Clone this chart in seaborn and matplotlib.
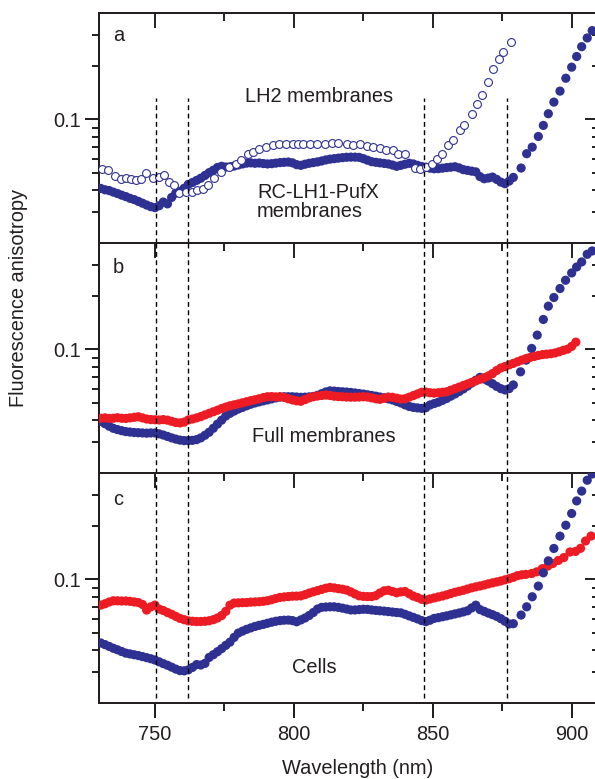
import numpy as np
import pandas as pd
import matplotlib
matplotlib.use("Agg")
import matplotlib.pyplot as plt
import seaborn as sns
from matplotlib.ticker import FixedLocator, NullFormatter, FixedFormatter

# ---------------- data (wavelength in nm, fluorescence anisotropy) ----------------
# dense scans sampled every 1.5 nm starting at 730.5 nm
GRID_START, GRID_STEP = 730.5, 1.5

# panel a: RC-LH1-PufX membranes (filled)
a_rc_dense = [0.0407, 0.0400, 0.0396, 0.0388, 0.0381, 0.0373, 0.0366, 0.0358, 0.0352, 0.0344,
              0.0336, 0.0328, 0.0321, 0.0317, 0.0325, 0.0341, 0.0333, 0.0362, 0.0383, 0.0392,
              0.0408, 0.0429, 0.0440, 0.0452, 0.0465, 0.0482, 0.0500, 0.0516, 0.0535, 0.0543,
              0.0538, 0.0540, 0.0545, 0.0553, 0.0560, 0.0566, 0.0568, 0.0565, 0.0567, 0.0563,
              0.0560, 0.0562, 0.0566, 0.0570, 0.0572, 0.0574, 0.0568, 0.0555, 0.0550, 0.0558,
              0.0565, 0.0570, 0.0575, 0.0582, 0.0590, 0.0596, 0.0600, 0.0604, 0.0608, 0.0611,
              0.0612, 0.0612, 0.0610, 0.0600, 0.0588, 0.0577, 0.0572, 0.0568, 0.0564, 0.0560,
              0.0552, 0.0543, 0.0550, 0.0558, 0.0565, 0.0560, 0.0550, 0.0542, 0.0537, 0.0530,
              0.0526, 0.0527, 0.0530, 0.0534, 0.0537, 0.0540, 0.0532, 0.0520, 0.0515, 0.0510,
              0.0505, 0.0475, 0.0462, 0.0466, 0.0472, 0.0458, 0.0442, 0.0433, 0.0448, 0.0470]
a_rc_tail_wl = [881.8, 883.8, 885.8, 888.0, 889.8, 891.6, 893.6, 895.8, 897.9, 900.0,
                901.8, 903.6, 905.6, 907.4]
a_rc_tail = [0.0531, 0.0640, 0.0697, 0.0801, 0.0925, 0.1077, 0.1253, 0.1446, 0.1710, 0.1975,
             0.2270, 0.2580, 0.2890, 0.3180]

# panel a: LH2 membranes (open)
a_lh2_wl = [730.8, 733.2, 735.6, 737.6, 739.5, 741.3, 743.3, 745.1, 746.9, 749.3,
            751.4, 753.4, 755.2, 756.7, 758.8, 761.2, 763.3, 765.1, 767.2, 769.0,
            771.4, 773.8, 776.8, 779.2, 781.0, 783.4, 785.2, 787.6, 790.0, 792.4,
            794.8, 797.2, 799.6, 801.6, 803.4, 805.8, 808.2, 811.2, 813.6, 816.0,
            819.0, 821.4, 823.8, 826.2, 828.4, 831.0, 833.2, 835.8, 837.6, 840.0,
            843.6, 845.4, 847.5, 849.6, 851.6, 853.5, 855.6, 857.4, 859.8, 861.3,
            864.0, 865.8, 867.8, 870.0, 871.8, 873.8, 875.2, 878.0]
a_lh2 = [0.0526, 0.0520, 0.0478, 0.0462, 0.0465, 0.0462, 0.0457, 0.0462, 0.0500, 0.0465,
         0.0470, 0.0483, 0.0443, 0.0424, 0.0383, 0.0388, 0.0388, 0.0397, 0.0405, 0.0424,
         0.0468, 0.0504, 0.0540, 0.0562, 0.0592, 0.0634, 0.0654, 0.0677, 0.0697, 0.0713,
         0.0729, 0.0729, 0.0729, 0.0727, 0.0722, 0.0722, 0.0722, 0.0729, 0.0735, 0.0735,
         0.0729, 0.0720, 0.0722, 0.0707, 0.0697, 0.0692, 0.0674, 0.0668, 0.0634, 0.0640,
         0.0531, 0.0526, 0.0540, 0.0562, 0.0600, 0.0640, 0.0713, 0.0767, 0.0867, 0.0933,
         0.1077, 0.1227, 0.1366, 0.1623, 0.1934, 0.2202, 0.2398, 0.2732]

# panel b: full membranes, blue and red series
b_blue_dense = [0.0392, 0.0380, 0.0368, 0.0358, 0.0352, 0.0347, 0.0343, 0.0341, 0.0339, 0.0338,
                0.0337, 0.0336, 0.0337, 0.0337, 0.0333, 0.0328, 0.0322, 0.0316, 0.0311, 0.0307,
                0.0305, 0.0305, 0.0306, 0.0309, 0.0316, 0.0327, 0.0340, 0.0358, 0.0378, 0.0398,
                0.0420, 0.0435, 0.0448, 0.0460, 0.0470, 0.0480, 0.0490, 0.0498, 0.0505, 0.0512,
                0.0518, 0.0525, 0.0532, 0.0538, 0.0540, 0.0540, 0.0540, 0.0538, 0.0536, 0.0537,
                0.0539, 0.0542, 0.0550, 0.0562, 0.0575, 0.0583, 0.0581, 0.0578, 0.0576, 0.0574,
                0.0571, 0.0567, 0.0563, 0.0559, 0.0554, 0.0549, 0.0544, 0.0538, 0.0532, 0.0525,
                0.0518, 0.0508, 0.0498, 0.0486, 0.0476, 0.0470, 0.0467, 0.0464, 0.0468, 0.0485,
                0.0494, 0.0503, 0.0515, 0.0528, 0.0544, 0.0560, 0.0578, 0.0598, 0.0620, 0.0645,
                0.0670, 0.0695, 0.0680, 0.0662, 0.0640, 0.0618, 0.0600, 0.0590, 0.0600, 0.0630]
b_blue_tail_wl = [881.6, 883.6, 885.6, 887.6, 889.8, 891.6, 893.6, 895.8, 897.8, 900.0,
                  901.8, 903.6, 905.6, 907.4]
b_blue_tail = [0.0747, 0.0870, 0.1013, 0.1205, 0.1477, 0.1757, 0.1967, 0.2211, 0.2462, 0.2708,
               0.2927, 0.3126, 0.3454, 0.3606]
b_red_dense = [0.0408, 0.0410, 0.0407, 0.0408, 0.0411, 0.0408, 0.0407, 0.0410, 0.0413, 0.0416,
               0.0410, 0.0404, 0.0401, 0.0400, 0.0399, 0.0401, 0.0398, 0.0392, 0.0386, 0.0384,
               0.0388, 0.0399, 0.0404, 0.0410, 0.0417, 0.0426, 0.0435, 0.0444, 0.0453, 0.0463,
               0.0472, 0.0480, 0.0486, 0.0492, 0.0499, 0.0506, 0.0513, 0.0519, 0.0526, 0.0534,
               0.0540, 0.0541, 0.0539, 0.0540, 0.0535, 0.0526, 0.0518, 0.0512, 0.0509, 0.0520,
               0.0532, 0.0540, 0.0545, 0.0549, 0.0552, 0.0549, 0.0544, 0.0541, 0.0540, 0.0538,
               0.0537, 0.0537, 0.0538, 0.0540, 0.0538, 0.0532, 0.0526, 0.0522, 0.0530, 0.0538,
               0.0536, 0.0530, 0.0524, 0.0526, 0.0537, 0.0548, 0.0560, 0.0572, 0.0574, 0.0569,
               0.0566, 0.0569, 0.0572, 0.0576, 0.0588, 0.0600, 0.0612, 0.0625, 0.0638, 0.0651,
               0.0664, 0.0678, 0.0692, 0.0708, 0.0730, 0.0760, 0.0785, 0.0800, 0.0818, 0.0834,
               0.0852, 0.0870, 0.0887, 0.0900, 0.0912, 0.0925, 0.0935, 0.0940, 0.0946, 0.0955,
               0.0970, 0.0988, 0.1003, 0.1040, 0.1100]

# panel c: cells, blue and red series
c_blue_dense = [0.0437, 0.0428, 0.0418, 0.0408, 0.0400, 0.0391, 0.0383, 0.0379, 0.0375, 0.0371,
                0.0366, 0.0361, 0.0356, 0.0350, 0.0342, 0.0334, 0.0327, 0.0319, 0.0311, 0.0305,
                0.0304, 0.0308, 0.0318, 0.0330, 0.0328, 0.0335, 0.0362, 0.0375, 0.0390, 0.0406,
                0.0424, 0.0442, 0.0470, 0.0497, 0.0510, 0.0522, 0.0532, 0.0542, 0.0550, 0.0557,
                0.0565, 0.0573, 0.0580, 0.0585, 0.0588, 0.0589, 0.0585, 0.0576, 0.0590, 0.0605,
                0.0625, 0.0650, 0.0680, 0.0695, 0.0698, 0.0700, 0.0700, 0.0695, 0.0688, 0.0680,
                0.0672, 0.0672, 0.0675, 0.0678, 0.0677, 0.0672, 0.0668, 0.0665, 0.0662, 0.0658,
                0.0654, 0.0650, 0.0647, 0.0635, 0.0622, 0.0610, 0.0598, 0.0585, 0.0577, 0.0588,
                0.0602, 0.0608, 0.0615, 0.0622, 0.0630, 0.0638, 0.0646, 0.0655, 0.0665, 0.0690,
                0.0715, 0.0675, 0.0660, 0.0645, 0.0632, 0.0618, 0.0600, 0.0580, 0.0560, 0.0562]
c_blue_tail_wl = [881.8, 883.8, 885.8, 888.0, 889.8, 891.6, 893.6, 895.8, 897.9, 900.0,
                  901.8, 903.6, 905.6, 907.4]
c_blue_tail = [0.0629, 0.0700, 0.0798, 0.0917, 0.1090, 0.1274, 0.1497, 0.1757, 0.2026, 0.2360,
               0.2780, 0.3160, 0.3640, 0.3950]
c_red_dense = [0.0716, 0.0728, 0.0745, 0.0757, 0.0757, 0.0755, 0.0755, 0.0752, 0.0746, 0.0740,
               0.0722, 0.0671, 0.0700, 0.0716, 0.0680, 0.0667, 0.0650, 0.0635, 0.0618, 0.0602,
               0.0592, 0.0583, 0.0580, 0.0578, 0.0578, 0.0580, 0.0584, 0.0592, 0.0605, 0.0625,
               0.0660, 0.0715, 0.0735, 0.0737, 0.0739, 0.0740, 0.0744, 0.0746, 0.0748, 0.0752,
               0.0758, 0.0768, 0.0780, 0.0791, 0.0796, 0.0800, 0.0804, 0.0805, 0.0807, 0.0820,
               0.0837, 0.0851, 0.0864, 0.0878, 0.0892, 0.0901, 0.0895, 0.0887, 0.0880, 0.0870,
               0.0850, 0.0828, 0.0808, 0.0802, 0.0800, 0.0800, 0.0810, 0.0838, 0.0862, 0.0868,
               0.0855, 0.0840, 0.0850, 0.0855, 0.0830, 0.0805, 0.0790, 0.0772, 0.0764, 0.0775,
               0.0786, 0.0796, 0.0806, 0.0818, 0.0832, 0.0846, 0.0857, 0.0868, 0.0882, 0.0896,
               0.0908, 0.0918, 0.0930, 0.0944, 0.0956, 0.0968, 0.0980, 0.0995, 0.1010, 0.1028,
               0.1050, 0.1062, 0.1068]
c_red_tail_wl = [885.6, 887.4, 889.4, 891.4, 893.2, 895.2, 897.2, 899.4, 901.4, 903.2,
                 905.0, 907.0]
c_red_tail = [0.1080, 0.1104, 0.1150, 0.1190, 0.1230, 0.1280, 0.1330, 0.1430, 0.1440, 0.1500,
              0.1650, 0.1760]

dashed_wl = [750.3, 761.9, 847.0, 876.8]
x_major = [750, 800, 850, 900]
x_minor = [775, 825, 875]
y_major = [0.1]
y_major_labels = ["0.1"]
y_minor = [0.03, 0.04, 0.05, 0.06, 0.07, 0.08, 0.09, 0.2, 0.3]
panel_letters = ["a", "b", "c"]

BLUE = "#2E3192"
RED = "#ED1C24"


def grid(vals):
    return [GRID_START + GRID_STEP * i for i in range(len(vals))]


def frame(wl, vals, name):
    return pd.DataFrame({"wl": wl, "r": vals, "series": name})


df_a = pd.concat([frame(grid(a_rc_dense), a_rc_dense, "blue"),
                  frame(a_rc_tail_wl, a_rc_tail, "blue")])
df_a_open = frame(a_lh2_wl, a_lh2, "open")
df_b = pd.concat([frame(grid(b_blue_dense), b_blue_dense, "blue"),
                  frame(b_blue_tail_wl, b_blue_tail, "blue"),
                  frame(grid(b_red_dense), b_red_dense, "red")])
df_c = pd.concat([frame(grid(c_red_dense), c_red_dense, "red"),
                  frame(c_red_tail_wl, c_red_tail, "red"),
                  frame(grid(c_blue_dense), c_blue_dense, "blue"),
                  frame(c_blue_tail_wl, c_blue_tail, "blue")])

# ---------------- figure ----------------
sns.set_theme(style="ticks")
plt.rcParams["font.family"] = ["Liberation Sans", "DejaVu Sans"]
plt.rcParams["axes.linewidth"] = 1.44

W, H = 595, 779
fig = plt.figure(figsize=(W / 100, H / 100), dpi=100)
fig.patch.set_facecolor("white")


def fx(px):
    return px / W


def fy(py):
    return 1 - py / H


left_px, right_px = 99.4, 596.5
x_lo = 730.0
x_hi = x_lo + (right_px - left_px) / 2.778
panels_px = [(13, 243), (243, 473), (473, 703)]
axes = []
for top, bot in panels_px:
    ax = fig.add_axes([fx(left_px), fy(bot), (right_px - left_px) / W, (bot - top) / H])
    axes.append(ax)

palette = {"blue": BLUE, "red": RED}
FS = 14.4
LW = 1.44
S_FILLED = 44

for i, ax in enumerate(axes):
    ax.set_facecolor("white")
    ax.set_yscale("log")
    ax.set_ylim(0.02, 0.4)
    ax.set_xlim(x_lo, x_hi)
    ax.yaxis.set_major_locator(FixedLocator(y_major))
    ax.yaxis.set_major_formatter(FixedFormatter(y_major_labels))
    ax.yaxis.set_minor_locator(FixedLocator(y_minor))
    ax.yaxis.set_minor_formatter(NullFormatter())
    ax.tick_params(axis="y", which="major", direction="out", length=10, width=LW,
                   labelsize=FS, pad=3, right=False, colors="#231F20")
    ax.tick_params(axis="y", which="minor", direction="out", length=5, width=LW, right=False)
    ax.xaxis.set_major_locator(FixedLocator(x_major))
    ax.xaxis.set_minor_locator(FixedLocator(x_minor))
    ax.xaxis.set_minor_formatter(NullFormatter())
    if i == 2:
        ax.tick_params(axis="x", which="major", direction="out", length=10.8, width=LW,
                       labelsize=FS, pad=5, top=False, colors="#231F20")
        ax.tick_params(axis="x", which="minor", direction="out", length=5.8, width=LW, top=False)
    else:
        ax.tick_params(axis="x", which="both", length=0, labelbottom=False, top=False)
    for sp in ax.spines.values():
        sp.set_linewidth(LW)
        sp.set_color("#231F20")
    ax.spines["right"].set_visible(False)

    # right-side inward ticks
    sy = ax.secondary_yaxis("right")
    sy.yaxis.set_major_locator(FixedLocator(y_major))
    sy.yaxis.set_minor_locator(FixedLocator(y_minor))
    sy.yaxis.set_major_formatter(NullFormatter())
    sy.yaxis.set_minor_formatter(NullFormatter())
    sy.tick_params(axis="y", which="major", direction="in", length=8.6, width=LW)
    sy.tick_params(axis="y", which="minor", direction="in", length=3.6, width=LW)
    sy.spines["right"].set_linewidth(LW)

    # top inward ticks
    sx = ax.secondary_xaxis("top")
    sx.xaxis.set_major_locator(FixedLocator(x_major))
    sx.xaxis.set_minor_locator(FixedLocator(x_minor))
    sx.xaxis.set_major_formatter(NullFormatter())
    sx.xaxis.set_minor_formatter(NullFormatter())
    sx.tick_params(axis="x", which="major", direction="in", length=10.8, width=LW)
    sx.tick_params(axis="x", which="minor", direction="in", length=5.8, width=LW)
    sx.spines["top"].set_linewidth(LW)

# data
sns.scatterplot(data=df_a, x="wl", y="r", hue="series", palette=palette, s=S_FILLED,
                linewidth=0, legend=False, ax=axes[0], zorder=3)
sns.scatterplot(data=df_a_open, x="wl", y="r", color="white", edgecolor=BLUE, s=32,
                linewidth=0.8, legend=False, ax=axes[0], zorder=4)
sns.scatterplot(data=df_b, x="wl", y="r", hue="series", palette=palette, s=S_FILLED,
                linewidth=0, legend=False, ax=axes[1], zorder=3)
sns.scatterplot(data=df_c, x="wl", y="r", hue="series", palette=palette, s=S_FILLED,
                linewidth=0, legend=False, ax=axes[2], zorder=3)

# dashed guides
dash_ranges = [(0.0, 0.630), (0.0, 1.0), (0.022, 1.0)]
for ax, (y0, y1) in zip(axes, dash_ranges):
    for xv in dashed_wl:
        ax.axvline(xv, ymin=y0, ymax=y1, color="black", lw=1.0,
                   ls=(0, (3.5, 2.5)), zorder=5)
    ax.set_xlabel("")
    ax.set_ylabel("")

# texts
txt = dict(color="#231F20", fontsize=FS, va="baseline")
for letter, base in zip(panel_letters, [41, 273, 505]):
    fig.text(fx(113), fy(base), letter, ha="left", **txt)
fig.text(fx(319), fy(101.7), "LH2 membranes", ha="center", **txt)
fig.text(fx(257), fy(198.3), "RC-LH1-PufX", ha="left", **txt)
fig.text(fx(257), fy(216.7), "membranes", ha="left", **txt)
fig.text(fx(252), fy(441.7), "Full membranes", ha="left", **txt)
fig.text(fx(292), fy(673.3), "Cells", ha="left", **txt)
fig.text(fx(358), fy(773.5), "Wavelength (nm)", ha="center", **txt)
fig.text(fx(19), fy(298), "Fluorescence anisotropy", rotation=90, ha="center",
         va="center", color="#231F20", fontsize=FS)

fig.savefig("out.png", dpi=100, facecolor="white")
